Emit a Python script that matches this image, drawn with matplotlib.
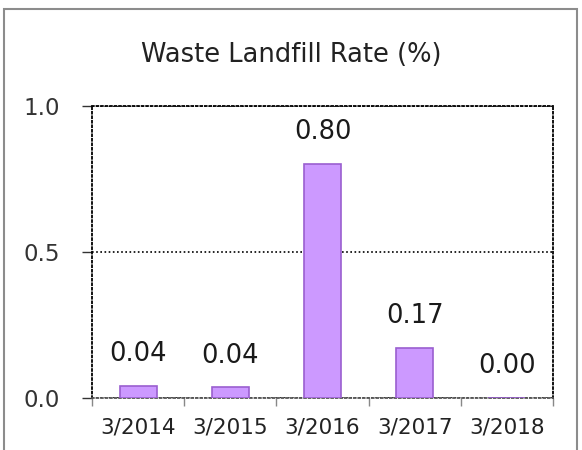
import matplotlib
matplotlib.use("Agg")
import matplotlib.pyplot as plt
from matplotlib.patches import Rectangle

categories = ["3/2014", "3/2015", "3/2016", "3/2017", "3/2018"]
values = [0.04, 0.036, 0.80, 0.17, 0.00]
labels = ["0.04", "0.04", "0.80", "0.17", "0.00"]
y_ticks = [0.0, 0.5, 1.0]
y_tick_labels = ["0.0", "0.5", "1.0"]

fig = plt.figure(figsize=(5.82, 4.5), dpi=100)
ax = fig.add_axes([92 / 582, 1 - 398 / 450, 461 / 582, 292 / 450])

# outer frame of the chart box (runs off the bottom edge)
fig.patches.append(Rectangle((4 / 582, -0.05), 573 / 582, 1.05 - 9 / 450,
                             transform=fig.transFigure, fill=False,
                             edgecolor="#8c8c8c", linewidth=1.5))

x = range(len(categories))
ax.bar(x, values, width=0.4, color="#cc99ff", edgecolor="#9a5fcf", linewidth=1.2, zorder=3)

for xi, v, lab in zip(x, values, labels):
    ax.annotate(lab, (xi, v), xytext=(0, 23), textcoords="offset points",
                ha="center", va="center", fontsize=18.5, color="#1a1a1a")

ax.set_xlim(-0.5, len(categories) - 0.5)
ax.set_ylim(0, 1.0)

ax.set_yticks(y_ticks, y_tick_labels)
ax.tick_params(axis="y", length=7, width=1, pad=16, labelsize=16.5, colors="#333333")
ax.set_xticks(list(x), categories)
ax.tick_params(axis="x", which="major", length=0, pad=14, labelsize=15.5, colors="#222222")
ax.set_xticks([i - 0.5 for i in range(len(categories) + 1)], minor=True)
ax.tick_params(axis="x", which="minor", length=6, width=1, color="#888888")

ax.grid(axis="y", linestyle=(0, (1, 1.5)), color="black", linewidth=1.2, zorder=0)
for side in ["left", "right", "top"]:
    ax.spines[side].set_linestyle((0, (1, 1.5)))
    ax.spines[side].set_linewidth(1.3)
    ax.spines[side].set_color("black")
ax.spines["bottom"].set_linestyle((0, (1, 1.5)))
ax.spines["bottom"].set_color("#555555")
ax.spines["bottom"].set_linewidth(1.3)

fig.text(0.5, 1 - 55 / 450, "Waste Landfill Rate (%)",
         ha="center", va="center", fontsize=18.5, color="#222222")

fig.savefig("out.png", dpi=100)
